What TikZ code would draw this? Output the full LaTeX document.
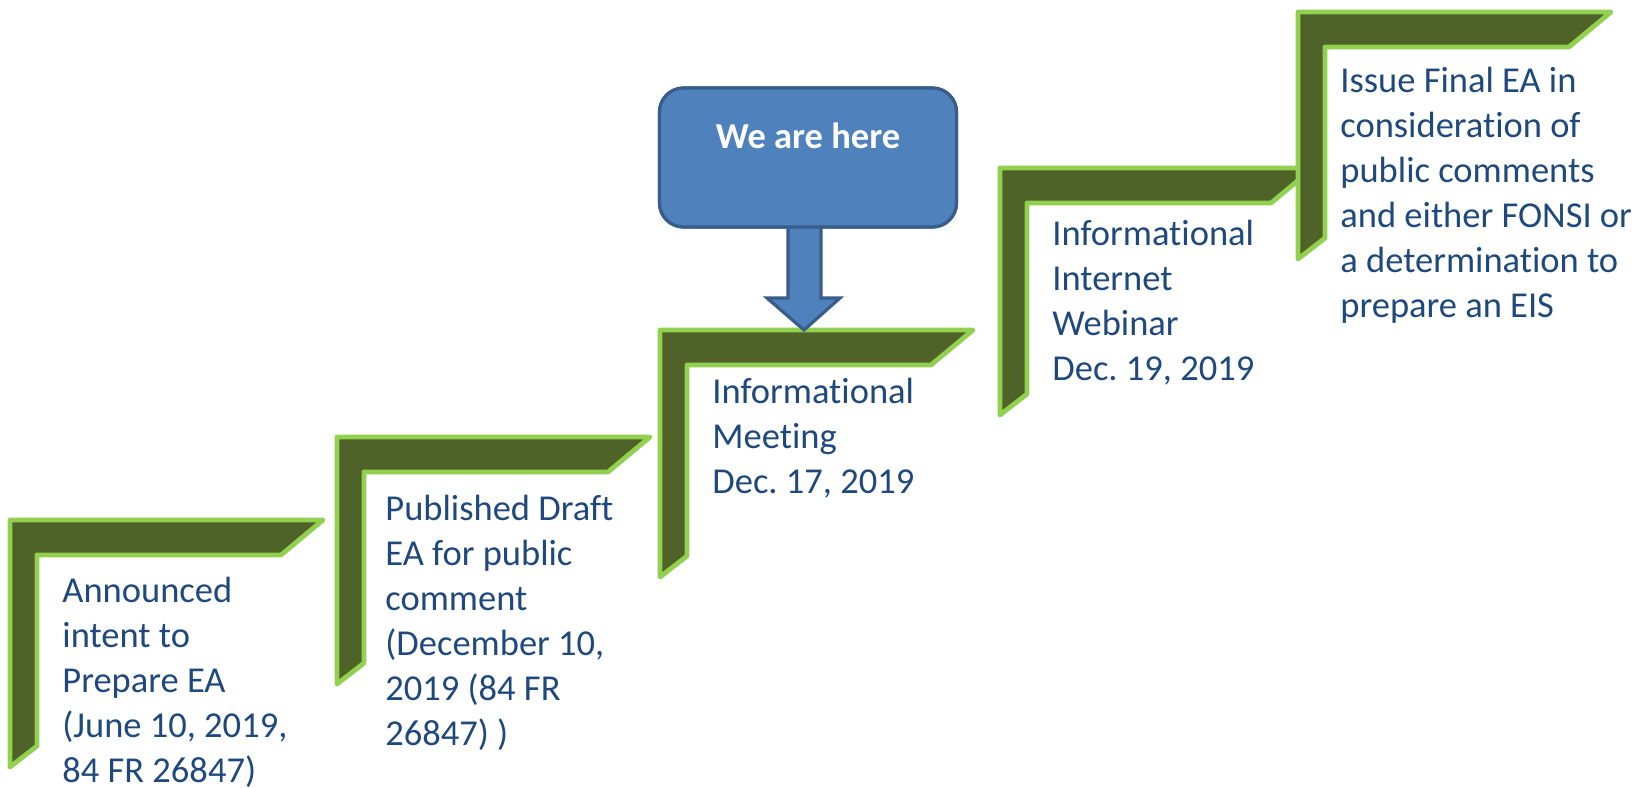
\documentclass[tikz,border=0pt]{standalone}
\usepackage{fontspec}
\setmainfont{Carlito}[Ligatures={NoCommon,NoRare,NoContextual}]
\usetikzlibrary{calc}
\definecolor{stepfill}{HTML}{4F6228}
\definecolor{stepline}{HTML}{92D050}
\definecolor{txtblue}{HTML}{1F497D}
\definecolor{callfill}{HTML}{4F81BD}
\definecolor{callline}{HTML}{385D8A}
\tikzset{
  stepshape/.style={fill=stepfill, draw=stepline, line width=2.4pt, line join=round},
  steptext/.style={anchor=base west, inner sep=0pt, text=txtblue, font=\fontsize{18.25}{22.5}\selectfont},
  callbox/.style={fill=callfill, draw=callline, line width=1.6pt, rounded corners=12pt,
    minimum width=148.5pt, inner sep=0pt, text height=30pt, text depth=39.5pt,
    text=white, font=\fontsize{18.25}{22.5}\selectfont\bfseries},
  callarrow/.style={fill=callfill, draw=callline, line width=1.6pt, line join=miter},
}
\newcommand\stepat[2]{%
  \draw[stepshape] (#1,#2) -- ++(313,0) -- ++(-42,35) -- ++(-244,0) -- ++(0,191) -- ++(-27,21) -- cycle;}
\newcommand\lines[1]{\begin{tabular}[t]{@{}l@{}}#1\end{tabular}}
\frenchspacing
\begin{document}
\begin{tikzpicture}[x=0.5pt, y=-0.5pt]
  \useasboundingbox (0,0) rectangle (1642,787);
  % steps
  \stepat{10}{520}
  \stepat{337}{437}
  \stepat{660}{330}
  \stepat{1000}{168}
  \stepat{1298}{12}
  % texts
  \node[steptext] (t1) at (62,602) {\lines{Announced\\intent to\\Prepare EA\\(June 10, 2019,\\84 FR 26847)}};
  \node[steptext] (t2) at (385,520) {\lines{Published Draft\\EA for public\\comment\\(December 10,\\2019 (84 FR\\26847) )}};
  \node[steptext] (t3) at (712,403) {\lines{Informational\\Meeting\\Dec. 17, 2019}};
  \node[steptext] (t4) at (1052,245) {\lines{Informational\\Internet\\Webinar\\Dec. 19, 2019}};
  \node[steptext] (t5) at (1340,92) {\lines{Issue Final EA in\\consideration of\\public comments\\and either FONSI or\\a determination to\\prepare an EIS}};
  % callout
  \coordinate (tip) at (804,330);
  \node[callbox] (here) at (808,157.5) {We are here};
  \draw[callarrow] ($(here.south -| tip)+(-16,-4)$) -- ($(here.south -| tip)+(17,-4)$)
     -- ($(tip)+(17,-32)$) -- ($(tip)+(36,-32)$) -- (tip) -- ($(tip)+(-37,-32)$)
     -- ($(tip)+(-16,-32)$) -- cycle;
  \node[callbox] at (here.center) {We are here};
\end{tikzpicture}
\end{document}
